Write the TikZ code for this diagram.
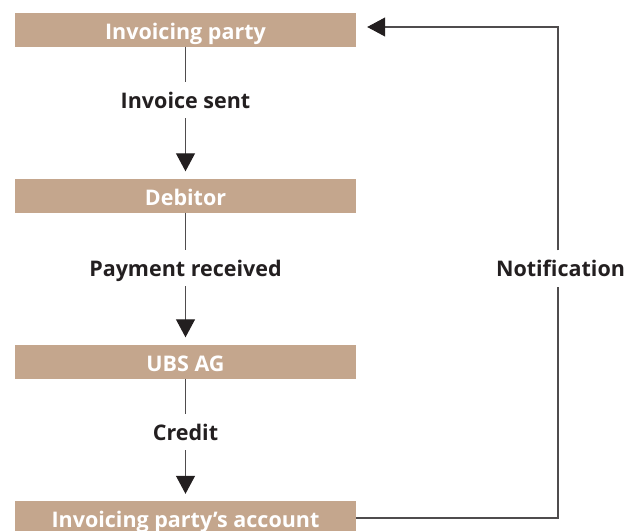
\documentclass[tikz,border=0pt]{standalone}
\usepackage{fontspec}
\setmainfont{Open Sans}
\usetikzlibrary{arrows.meta,calc}
\definecolor{boxc}{HTML}{C4A68D}
\definecolor{ink}{HTML}{231F20}
\begin{document}
\begin{tikzpicture}[x=1pt,y=-1pt,
  box/.style={fill=boxc,text=white,font=\bfseries\fontsize{21.5}{24}\selectfont,
    minimum width=341pt,minimum height=34pt,inner sep=0pt,text height=19pt,text depth=0pt},
  lbl/.style={text=ink,font=\bfseries\fontsize{21.5}{24}\selectfont,inner sep=0pt,
    minimum height=36pt,text height=16pt,text depth=0pt},
  ln/.style={draw=ink!80,line width=1.1pt},
  arr/.style={ln,-{Triangle[width=19pt,length=18pt,color=ink]},shorten >=7pt}]
\useasboundingbox (0,0) rectangle (639,530);
\node[box] (ip) at (185.5,29.5) {Invoicing party};
\node[box] (deb) at (185.5,195.5) {Debitor};
\node[box] (ubs) at (185.5,361.5) {UBS AG};
\node[box] (acc) at (185.5,518) {Invoicing party’s account};
\node[lbl] (l1) at (185.5,100) {Invoice sent};
\node[lbl] (l2) at (185.5,268) {Payment received};
\node[lbl] (l3) at (185.5,432) {Credit};
\node[lbl] (nt) at (560.5,268.5) {Notification};
\draw[ln] (ip) -- (l1);
\draw[arr] (l1) -- (deb);
\draw[ln] (deb) -- (l2);
\draw[arr] (l2) -- (ubs);
\draw[ln] (ubs) -- (l3);
\draw[arr] (l3) -- (acc);
\draw[ln] (acc.east) -| ([xshift=-2.5pt]nt.south);
\draw[arr,shorten >=11pt] ([xshift=-2.5pt]nt.north) |- ([yshift=2.5pt]ip.east);
\end{tikzpicture}
\end{document}
